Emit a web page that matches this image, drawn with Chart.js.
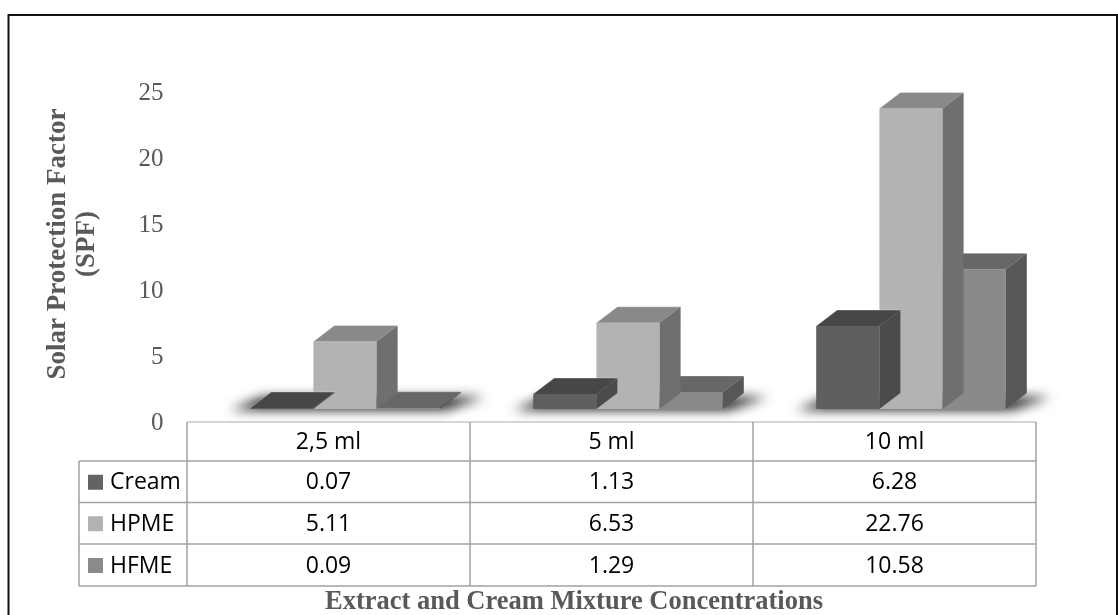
<!DOCTYPE html>
<html>
<head>
<meta charset="utf-8">
<script src="https://cdn.jsdelivr.net/npm/chart.js@4/dist/chart.umd.min.js"></script>
<style>
  html, body { margin: 0; padding: 0; background: #ffffff; }
  #wrap { position: relative; width: 1118px; height: 615px; }
</style>
</head>
<body>
<div id="wrap"><canvas id="spf"></canvas></div>
<script>
// Concentrations (x categories) and SPF readings per formulation
const categories = ['2,5 ml', '5 ml', '10 ml'];
const seriesNames = ['Cream', 'HPME', 'HFME'];
const creamValues = [0.07, 1.13, 6.28];
const hpmeValues = [5.11, 6.53, 22.76];
const hfmeValues = [0.09, 1.29, 10.58];
const yTickValues = [0, 5, 10, 15, 20, 25];

const seriesValues = [creamValues, hpmeValues, hfmeValues];

// Shading for the front, top and side faces of each 3D column
const faceColors = [
  { front: '#5f5f5f', top: '#474747', side: '#4b4b4b', key: '#636363' },
  { front: '#b3b3b3', top: '#898989', side: '#6f6f6f', key: '#b3b3b3' },
  { front: '#898989', top: '#676767', side: '#575757', key: '#8a8a8a' }
];
const DEPTH_X = 21;      // horizontal reach of the column depth
const DEPTH_Y = 16;      // vertical reach of the column depth
const TABLE_SHIFT = 16.5; // data table sits left of the projected columns
const AXIS_GRAY = '#595959';
const SERIF = "'Liberation Serif', 'Times New Roman', serif";
const SANS = "'Open Sans', 'Noto Sans', sans-serif";

function poly(ctx, pts, fill) {
  ctx.beginPath();
  ctx.moveTo(pts[0][0], pts[0][1]);
  for (let i = 1; i < pts.length; i++) ctx.lineTo(pts[i][0], pts[i][1]);
  ctx.closePath();
  ctx.fillStyle = fill;
  ctx.fill();
}

// Soft floor shadow under each group of columns
const floorShadow = {
  id: 'floorShadow',
  beforeDatasetsDraw(chart) {
    const ctx = chart.ctx;
    const first = chart.getDatasetMeta(0).data;
    const last = chart.getDatasetMeta(seriesNames.length - 1).data;
    ctx.save();
    ctx.filter = 'blur(6px)';
    first.forEach((bar, i) => {
      const left = bar.x - bar.width / 2;
      const right = last[i].x + last[i].width / 2;
      const base = bar.base;
      poly(ctx, [
        [left - 20, base + 1],
        [right + 6, base + 1],
        [right + DEPTH_X + 24, base - DEPTH_Y + 4],
        [left + DEPTH_X - 8, base - DEPTH_Y + 4]
      ], 'rgba(30,30,30,1)');
    });
    ctx.restore();
  }
};

// Top and side faces drawn right after each dataset's front faces
const columns3d = {
  id: 'columns3d',
  afterDatasetDraw(chart, args) {
    const ctx = chart.ctx;
    const c = faceColors[args.index];
    ctx.save();
    args.meta.data.forEach(bar => {
      const l = bar.x - bar.width / 2;
      const r = bar.x + bar.width / 2;
      const t = bar.y;
      const b = bar.base;
      poly(ctx, [[l, t], [r, t], [r + DEPTH_X, t - DEPTH_Y], [l + DEPTH_X, t - DEPTH_Y]], c.top);
      poly(ctx, [[r, t], [r, b], [r + DEPTH_X, b - DEPTH_Y], [r + DEPTH_X, t - DEPTH_Y]], c.side);
      ctx.strokeStyle = 'rgba(255,255,255,0.28)';
      ctx.lineWidth = 1;
      ctx.beginPath();
      ctx.moveTo(l, t); ctx.lineTo(l + DEPTH_X, t - DEPTH_Y); ctx.lineTo(r + DEPTH_X, t - DEPTH_Y);
      ctx.stroke();
    });
    ctx.restore();
  }
};

// Data table under the plot, x-axis title and outer frame
const dataTable = {
  id: 'dataTable',
  afterDraw(chart) {
    const ctx = chart.ctx;
    const xs = chart.scales.x;
    const colW = (xs.right - xs.left) / categories.length;
    const edges = categories.map((_, i) => xs.getPixelForValue(i) - colW / 2 - TABLE_SHIFT);
    edges.push(edges[edges.length - 1] + colW);
    const top = chart.chartArea.bottom + 13;
    const rows = [top, top + 39, top + 80.5, top + 122, top + 164];
    const keyLeft = 79;
    const tableRight = edges[edges.length - 1];

    ctx.save();
    // light header rule
    ctx.strokeStyle = '#d6d6d6';
    ctx.lineWidth = 2;
    ctx.beginPath();
    ctx.moveTo(edges[0], rows[0]); ctx.lineTo(tableRight, rows[0]);
    ctx.stroke();

    ctx.strokeStyle = '#a2a2a2';
    ctx.lineWidth = 1.5;
    ctx.beginPath();
    for (let r = 1; r < rows.length; r++) {
      ctx.moveTo(keyLeft, rows[r]); ctx.lineTo(tableRight, rows[r]);
    }
    edges.forEach(x => { ctx.moveTo(x, rows[0]); ctx.lineTo(x, rows[rows.length - 1]); });
    ctx.moveTo(keyLeft, rows[1]); ctx.lineTo(keyLeft, rows[rows.length - 1]);
    ctx.stroke();

    ctx.fillStyle = '#000000';
    ctx.font = '23px ' + SANS;
    ctx.textBaseline = 'middle';
    ctx.textAlign = 'center';
    categories.forEach((cat, i) => {
      ctx.fillText(cat, (edges[i] + edges[i + 1]) / 2, (rows[0] + rows[1]) / 2 + 1);
    });
    seriesNames.forEach((name, s) => {
      const cy = (rows[s + 1] + rows[s + 2]) / 2 + 1;
      ctx.fillStyle = faceColors[s].key;
      ctx.fillRect(88, cy - 8, 15, 15);
      ctx.fillStyle = '#000000';
      ctx.textAlign = 'left';
      ctx.fillText(name, 110, cy);
      ctx.textAlign = 'center';
      seriesValues[s].forEach((v, i) => {
        ctx.fillText(v.toFixed(2), (edges[i] + edges[i + 1]) / 2, cy);
      });
    });

    // x-axis title
    ctx.fillStyle = AXIS_GRAY;
    ctx.font = 'bold 26.5px ' + SERIF;
    ctx.textAlign = 'center';
    ctx.fillText('Extract and Cream Mixture Concentrations', 574, 602);

    // outer frame
    ctx.strokeStyle = '#111111';
    ctx.lineWidth = 2;
    ctx.beginPath();
    ctx.moveTo(8.5, 615); ctx.lineTo(8.5, 15); ctx.lineTo(1117, 15); ctx.lineTo(1117, 615);
    ctx.stroke();
    ctx.restore();
  }
};

new Chart(document.getElementById('spf'), {
  type: 'bar',
  data: {
    labels: categories,
    datasets: seriesNames.map((name, s) => ({
      label: name,
      data: seriesValues[s],
      backgroundColor: faceColors[s].front,
      borderWidth: 0,
      barPercentage: 1.0,
      categoryPercentage: 0.67
    }))
  },
  options: {
    responsive: true,
    maintainAspectRatio: false,
    animation: false,
    events: [],
    layout: { padding: { left: 0, right: 65.5, top: 79, bottom: 206 } },
    plugins: { legend: { display: false }, tooltip: { enabled: false }, title: { display: false } },
    scales: {
      x: { type: 'category', display: false, offset: true, grid: { display: false } },
      y: {
        min: 0,
        max: yTickValues[yTickValues.length - 1],
        afterBuildTicks(scale) { scale.ticks = yTickValues.map(v => ({ value: v })); },
        afterFit(scale) { scale.width = 203.5; },
        grid: { display: false, drawTicks: false },
        border: { display: false },
        ticks: {
          padding: 40,
          labelOffset: 14,
          color: AXIS_GRAY,
          font: { family: SERIF, size: 25 }
        },
        title: {
          display: true,
          text: ['Solar Protection Factor', '(SPF)'],
          color: AXIS_GRAY,
          font: { family: SERIF, size: 27, weight: 'bold', lineHeight: '29px' },
          padding: { top: 43.5, bottom: 0 }
        }
      }
    }
  },
  plugins: [floorShadow, columns3d, dataTable]
});
</script>
</body>
</html>
